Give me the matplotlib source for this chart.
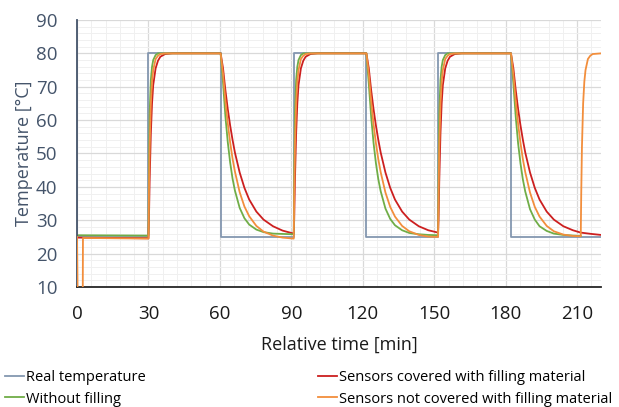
import matplotlib.pyplot as plt
from matplotlib.ticker import MultipleLocator
from matplotlib.lines import Line2D

plt.rcParams['font.family'] = ['Open Sans', 'DejaVu Sans']

# real (set) temperature
t_real = [0, 30, 30, 60.3, 60.3, 91.0, 91.0, 121.5, 121.5, 151.6, 151.6, 182.2, 182.2, 220]
y_real = [25, 25, 80, 80, 25, 25, 80, 80, 25, 25, 80, 80, 25, 25]

# sample times shared by the sensor curves
t_cycles = [0, 30,
            30.2, 30.5, 31, 31.5, 32, 33, 34, 35, 37, 40,
            60.3,
            61.3, 62.3, 63.3, 64.3, 65.3, 66.3, 68.3, 70.3, 72.3, 75.3, 78.3, 82.3, 86.3,
            91.0,
            91.2, 91.5, 92, 92.5, 93, 94, 95, 96, 98, 101,
            121.5,
            122.5, 123.5, 124.5, 125.5, 126.5, 127.5, 129.5, 131.5, 133.5, 136.5, 139.5, 143.5, 147.5,
            151.6,
            151.8, 152.1, 152.6, 153.1, 153.6, 154.6, 155.6, 156.6, 158.6, 161.6,
            182.2,
            183.2, 184.2, 185.2, 186.2, 187.2, 188.2, 190.2, 192.2, 194.2, 197.2, 200.2, 204.2, 208.2,
            211.5]

y_green = [25.5, 25.4,
           45, 62, 72, 76, 78, 79.5, 80, 80, 80, 80,
           80,
           71.3, 61.2, 53.4, 47.3, 42.5, 38.9, 33.7, 30.6, 28.7, 27.2, 26.45, 26.0, 25.9,
           25.8,
           45, 62, 72, 76, 78, 79.5, 80, 80, 80, 80,
           80,
           71.0, 61.0, 53.2, 47.1, 42.3, 38.7, 33.5, 30.4, 28.5, 27.0, 26.2, 25.8, 25.6,
           25.5,
           45, 62, 72, 76, 78, 79.5, 80, 80, 80, 80,
           80,
           71.0, 61.0, 53.0, 47.0, 42.2, 38.6, 33.3, 30.2, 28.2, 26.8, 26.0, 25.6, 25.4,
           25.3]

t_red = t_cycles + [216, 220]
y_red = [24.8, 24.6,
         30, 42, 56, 65, 70.5, 75.5, 77.8, 79, 79.8, 80,
         80,
         75.6, 69.0, 63.3, 58.4, 54.1, 50.3, 44.3, 39.7, 36.2, 32.6, 30.2, 28.2, 26.9,
         26.0,
         30.5, 42, 56, 65, 70.5, 75.5, 77.8, 79, 79.8, 80,
         80,
         75.6, 69.0, 63.3, 58.4, 54.1, 50.3, 44.3, 39.7, 36.2, 32.6, 30.2, 28.2, 27.0,
         26.3,
         30.5, 42, 56, 65, 70.5, 75.5, 77.8, 79, 79.8, 80,
         80,
         75.6, 69.0, 63.3, 58.4, 54.1, 50.3, 44.3, 39.7, 36.2, 32.6, 30.2, 28.2, 27.0,
         26.3, 25.9, 25.6]

t_orange = [0, 0.3, 2.4, 2.5] + t_cycles[1:] + [211.7, 212.0, 212.5, 213, 213.5, 214.5, 215.5, 216.5, 220]
y_orange = [25, 5, 5, 24.7, 24.5,
            38, 52, 65, 71.5, 75, 78.3, 79.3, 79.8, 80, 80,
            80,
            73.9, 65.8, 59.0, 53.3, 48.5, 44.6, 38.4, 34.1, 31.2, 28.3, 26.6, 25.4, 24.8,
            24.5,
            38, 52, 65, 71.5, 75, 78.3, 79.3, 79.8, 80, 80,
            80,
            73.8, 65.6, 58.8, 53.1, 48.3, 44.4, 38.3, 34.0, 31.1, 28.3, 26.7, 25.6, 25.1,
            25.0,
            38, 52, 65, 71.5, 75, 78.3, 79.3, 79.8, 80, 80,
            80,
            73.8, 65.6, 58.8, 53.1, 48.3, 44.4, 38.3, 34.0, 31.1, 28.3, 26.7, 25.7, 25.3,
            25.2,
            38, 52, 65, 71.5, 75, 78.3, 79.3, 79.8, 80]

labels = ['Real temperature', 'Sensors covered with filling material',
          'Without filling', 'Sensors not covered with filling material']
c_real, c_red, c_green, c_orange = '#8497B0', '#CC1F1F', '#70AD47', '#F28E3C'
slate = '#44546A'

fig = plt.figure(figsize=(6.19, 4.07), dpi=100)
ax = fig.add_axes([77 / 619, 1 - 287 / 407, (601 - 77) / 619, (287 - 20) / 407])

lw = 1.3
ax.plot(t_real, y_real, color=c_real, lw=lw)
ax.plot(t_red, y_red, color=c_red, lw=lw)
ax.plot(t_cycles, y_green, color=c_green, lw=lw)
ax.plot(t_orange, y_orange, color=c_orange, lw=lw, zorder=3)

ax.set_xlim(0, 220)
ax.set_ylim(10, 90)
ax.xaxis.set_major_locator(MultipleLocator(30))
ax.xaxis.set_minor_locator(MultipleLocator(6))
ax.yaxis.set_major_locator(MultipleLocator(10))
ax.yaxis.set_minor_locator(MultipleLocator(2))
ax.grid(which='major', color='#D9D9D9', lw=0.9)
ax.grid(which='minor', color='#F0F0F0', lw=0.7)
ax.set_axisbelow(True)
ax.tick_params(which='both', length=0)
ax.tick_params(axis='y', labelsize=13.5, labelcolor=slate, pad=14)
ax.tick_params(axis='x', labelsize=13.5, labelcolor='#1A1A1A', pad=13)
for s in ['top', 'right']:
    ax.spines[s].set_visible(False)
ax.spines['left'].set_color(slate)
ax.spines['left'].set_linewidth(1.3)
ax.spines['bottom'].set_color('#262626')
ax.spines['bottom'].set_linewidth(1.3)
ax.set_ylabel('Temperature [°C]', fontsize=13, color=slate, labelpad=2)
ax.set_xlabel('Relative time [min]', fontsize=13, color='#1A1A1A', labelpad=9)

def handle(c):
    return Line2D([], [], color=c, lw=lw)

leg_kw = dict(loc='upper left', frameon=False, fontsize=10.5, handlelength=1.3,
              handletextpad=0.15, labelspacing=0.45, borderaxespad=0, borderpad=0)
fig.legend([handle(c_real), handle(c_green)], [labels[0], labels[2]],
           bbox_to_anchor=(5 / 619, 1 - 370 / 407), **leg_kw)
fig.legend([handle(c_red), handle(c_orange)], [labels[1], labels[3]],
           bbox_to_anchor=(318 / 619, 1 - 370 / 407), **leg_kw)

fig.savefig('out.png', dpi=100)
